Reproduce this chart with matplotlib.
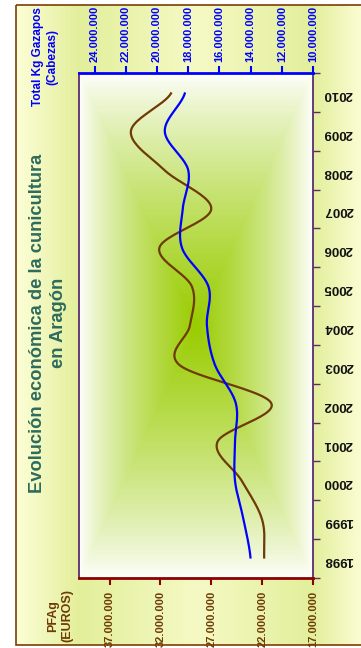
import numpy as np
import matplotlib
matplotlib.use("Agg")
import matplotlib.pyplot as plt
from matplotlib.patches import Rectangle
from matplotlib.ticker import FuncFormatter

plt.rcParams['font.family'] = ['Liberation Sans', 'DejaVu Sans']
plt.rcParams['font.weight'] = 'bold'

# data
years = ['1998', '1999', '2000', '2001', '2002', '2003', '2004',
         '2005', '2006', '2007', '2008', '2009', '2010']
pfag_euros = [21.8e6, 22.0e6, 24.0e6, 26.4e6, 21.1e6, 30.2e6, 29.1e6,
              28.9e6, 32.1e6, 27.0e6, 31.6e6, 34.9e6, 30.9e6]
kg_gazapos = [14.0e6, 14.45e6, 15.0e6, 15.0e6, 14.95e6, 16.3e6, 16.8e6,
              16.7e6, 18.4e6, 18.35e6, 18.0e6, 19.5e6, 18.2e6]
pfag_ticks = [17e6, 22e6, 27e6, 32e6, 37e6]
kg_ticks = [10e6, 12e6, 14e6, 16e6, 18e6, 20e6, 22e6, 24e6]

W, H = 361, 648
BROWN = '#6E3A06'
BLUE = '#0000FF'
DARKRED = '#8B0000'
PURPLE = '#5B2C6F'
TITLE = '#2E6B5C'


def smooth(vals, n=24):
    # Catmull-Rom smoothing like Excel's "smoothed line"
    v = np.asarray(vals, dtype=float)
    p = np.concatenate([[v[0]], v, [v[-1]]])
    xs, ys = [], []
    for i in range(len(v) - 1):
        p0, p1, p2, p3 = p[i], p[i + 1], p[i + 2], p[i + 3]
        t = np.linspace(0, 1, n, endpoint=(i == len(v) - 2))
        y = 0.5 * ((2 * p1) + (-p0 + p2) * t + (2 * p0 - 5 * p1 + 4 * p2 - p3) * t ** 2
                   + (-p0 + 3 * p1 - 3 * p2 + p3) * t ** 3)
        xs.append(i + t)
        ys.append(y)
    return np.concatenate(xs), np.concatenate(ys)


def fmt(v, pos=None):
    return '{:,.0f}'.format(v).replace(',', '.')


fig = plt.figure(figsize=(W / 100, H / 100), dpi=100)

# outer background with gradient frame
bg = fig.add_axes([0, 0, 1, 1], zorder=0)
bg.set_xlim(0, W)
bg.set_ylim(H, 0)
bg.axis('off')
xx = np.arange(W) + 0.5
w = np.interp(xx, [16, 79, 196, 313, 361], [0.05, 0.7, 0.25, 0.7, 0.1])
pale = np.array([1.0, 1.0, 0.86])
green = np.array([0.84, 0.91, 0.5])
row = pale[None, :] * (1 - w[:, None]) + green[None, :] * w[:, None]
img = np.ones((H, W, 3))
img[5:645, 16:, :] = row[16:][None, :, :]
bg.imshow(img, extent=[0, W, H, 0], aspect='auto', interpolation='bilinear')
bg.add_patch(Rectangle((16, 5), W, 640, fill=False, ec='#7A3E06', lw=1.2))

# plot area
left, right, top, bottom = 79, 313, 73, 578
pos = [left / W, 1 - bottom / H, (right - left) / W, (bottom - top) / H]

pbg = fig.add_axes(pos, zorder=1)
gx, gy = np.meshgrid(np.linspace(-1, 1, 240), np.linspace(-1, 1, 500))
r = np.clip(1 - np.maximum(np.abs(gx), np.abs(gy)), 0, 1) ** 0.8
cgreen = np.array([0.6, 0.8, 0.0])
grad = np.ones((500, 240, 3)) * (1 - r[..., None]) + cgreen * r[..., None]
pbg.imshow(grad, extent=[0, 1, 0, 1], aspect='auto', interpolation='bilinear')
pbg.axis('off')

ax = fig.add_axes(pos, zorder=2)
ax.patch.set_alpha(0)
ax2 = ax.twiny()

yi, yb = smooth(pfag_euros)
ax.plot(yb, yi, color=BROWN, lw=1.6, solid_capstyle='butt')
yi2, yk = smooth(kg_gazapos)
ax2.plot(yk, yi2, color=BLUE, lw=1.6, solid_capstyle='butt')

ax.set_ylim(-0.5, len(years) - 0.5)
ax.set_xlim(40e6, 17e6)
ax2.set_xlim(25e6, 10e6)

# bottom axis (PFAg)
ax.set_xticks(pfag_ticks)
ax.xaxis.set_major_formatter(FuncFormatter(fmt))
ax.tick_params(axis='x', direction='out', length=5, width=1.5, color=DARKRED,
               labelsize=8, labelcolor=BROWN, labelrotation=90, pad=4)

# year axis on the right
ax.set_yticks(range(len(years)))
ax.set_yticklabels(years)
ax.set_yticks(np.arange(-0.5, len(years)), minor=True)
ax.tick_params(axis='y', which='major', left=False, right=False, labelleft=False,
               labelright=True, labelsize=9.5, labelcolor='#111111', labelrotation=180, pad=4)
ax.tick_params(axis='y', which='minor', left=False, right=True, direction='out',
               length=5, width=1, color=PURPLE)

# top axis (Total Kg)
ax2.set_xticks(kg_ticks)
ax2.xaxis.set_major_formatter(FuncFormatter(fmt))
ax2.tick_params(axis='x', direction='out', length=5, width=1.5, color=BLUE,
                labelsize=8, labelcolor=BLUE, labelrotation=90, pad=3)

for s in ['left', 'right']:
    ax.spines[s].set_color(PURPLE)
    ax.spines[s].set_linewidth(1.3)
ax.spines['bottom'].set_color(DARKRED)
ax.spines['bottom'].set_linewidth(2)
ax.spines['top'].set_visible(False)
for s in ['left', 'right', 'bottom']:
    ax2.spines[s].set_visible(False)
ax2.spines['top'].set_color(BLUE)
ax2.spines['top'].set_linewidth(2)

# texts
fig.text(48 / W, 1 - 323 / H, 'Evolución económica de la cunicultura\nen Aragón',
         rotation=90, ha='center', va='center', fontsize=13.2, color=TITLE,
         fontweight='bold', linespacing=1.25, multialignment='center')
fig.text(60 / W, 1 - 616 / H, 'PFAg\n(EUROS)', rotation=90, ha='center',
         va='center', fontsize=9, color=BROWN, fontweight='bold',
         multialignment='center')
fig.text(45 / W, 1 - 57 / H, 'Total Kg Gazapos\n(Cabezas)', rotation=90,
         ha='center', va='center', fontsize=8.5, color=BLUE, fontweight='bold',
         multialignment='center')

fig.savefig('out.png', dpi=100)
